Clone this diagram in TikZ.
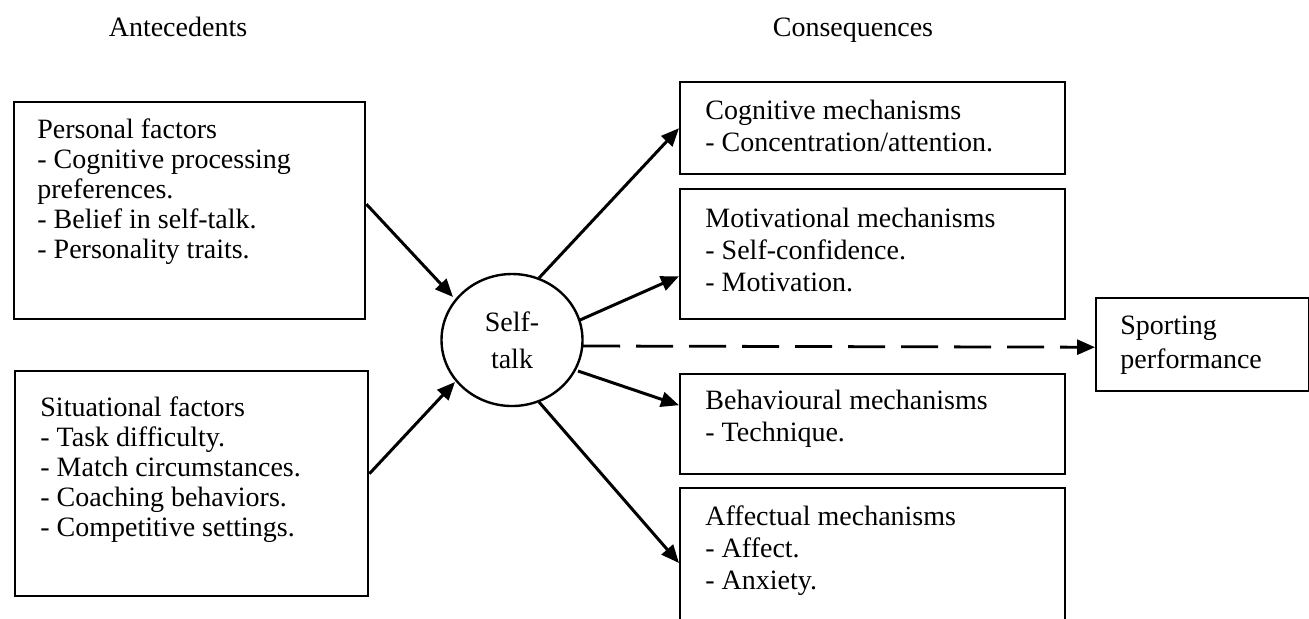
\documentclass[tikz,border=0pt]{standalone}
\usepackage{fontspec}
\setmainfont{Liberation Serif}
\usetikzlibrary{arrows.meta,shapes.geometric,calc}
\begin{document}
\begin{tikzpicture}[x=0.5pt,y=-0.5pt,
  box/.style={draw, line width=1.2pt, inner sep=0, anchor=north west},
  txt/.style={inner sep=0, anchor=north west, align=left, font=\fontsize{14}{16}\selectfont},
  ltxt/.style={txt, font=\fontsize{14}{15}\selectfont},
  arr/.style={line width=1.5pt, -{Triangle[length=9pt,width=7.5pt]}},
  dasharr/.style={line width=1.4pt, dash pattern=on 18.5pt off 8pt, -{Triangle[length=9pt,width=7.5pt]}}]
\useasboundingbox (0,0) rectangle (1309,618);
\clip (0,0) rectangle (1309,618);

% headers
\node[txt, anchor=base] (ante) at (178,36) {Antecedents};
\node[txt, anchor=base] (cons) at (853,36) {Consequences};

% antecedent boxes
\node[box, minimum width=351*0.5pt, minimum height=217*0.5pt] (pers) at (13,101) {};
\node[ltxt] (persT) at (37,117) {\strut Personal factors\\- Cognitive processing\\preferences.\\- Belief in self-talk.\\- Personality traits.};

\node[box, minimum width=353*0.5pt, minimum height=225*0.5pt] (sit) at (14,370) {};
\node[ltxt] (sitT) at (40,395) {\strut Situational factors\\- Task difficulty.\\- Match circumstances.\\- Coaching behaviors.\\- Competitive settings.};

% consequence boxes
\node[box, minimum width=385*0.5pt, minimum height=92*0.5pt] (cog) at (679,81) {};
\node[txt] (cogT) at (705,96.6) {\strut Cognitive mechanisms\\- Concentration/attention.};

\node[box, minimum width=385*0.5pt, minimum height=130*0.5pt] (mot) at (679,188) {};
\node[txt] (motT) at (705,204.6) {\strut Motivational mechanisms\\- Self-confidence.\\- Motivation.};

\node[box, minimum width=385*0.5pt, minimum height=100*0.5pt] (beh) at (679,373) {};
\node[txt] (behT) at (705,386.6) {\strut Behavioural mechanisms\\- Technique.};

\node[box, minimum width=385*0.5pt, minimum height=160*0.5pt] (aff) at (679,487) {};
\node[txt] (affT) at (705,502.6) {\strut Affectual mechanisms\\- Affect.\\- Anxiety.};

\node[box, minimum width=213*0.5pt, minimum height=93*0.5pt] (sp) at (1095,297) {};
\node[txt, font=\fontsize{14}{17}\selectfont] (spT) at (1120,310.6) {\strut Sporting\\performance};

% self-talk
\node[draw, ellipse, line width=1.2pt, minimum width=141*0.5pt, minimum height=132*0.5pt,
      inner sep=0, align=center, font=\fontsize{14}{18.5}\selectfont] (st) at (512,340) {Self-\\talk};

% connectors
\draw[arr] ($(pers.east)+(0,-6.5)$) -- ($(st.center)+(-59,-43)$);
\draw[arr] ($(sit.east)+(0,-10)$) -- ($(st.center)+(-57,42)$);
\draw[arr] ($(st.center)+(27,-62)$) -- (cog.west);
\draw[arr] ($(st.center)+(68,-20)$) -- ($(mot.west)+(0,22)$);
\draw[arr] ($(st.center)+(66,31)$) -- ($(beh.west)+(0,-19)$);
\draw[arr] ($(st.center)+(27,62)$) -- ($(aff.north west)+(0,76)$);
\draw[dasharr] ($(st.center)+(71,6)$) -- ($(sp.west)+(0,2.5)$);
\end{tikzpicture}
\end{document}
